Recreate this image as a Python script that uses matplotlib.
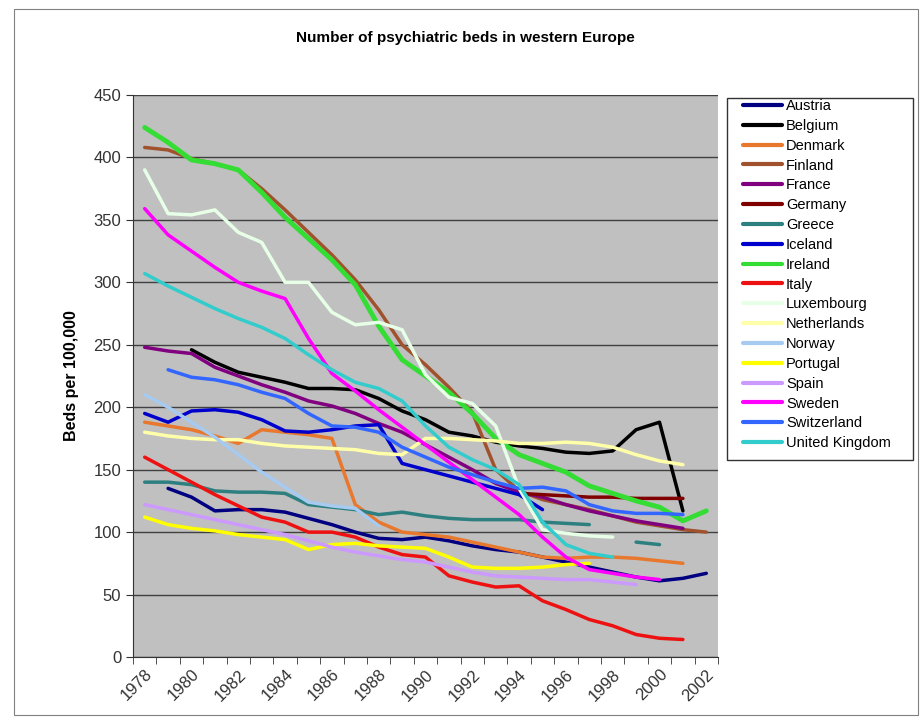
import numpy as np
import matplotlib
matplotlib.use("Agg")
import matplotlib.pyplot as plt
from matplotlib.patches import Rectangle

plt.rcParams['font.family'] = ['Liberation Sans', 'DejaVu Sans']

nan = np.nan
years = list(range(1978, 2003))

# beds per 100,000, one value per year 1978-2002 (nan = no data)
austria = [nan, 135, 128, 117, 118, 118, 116, 111, 106, 100, 95, 94, 96, 93, 89, 86, 84, 80, 76, 72, 68, 64, 61, 63, 67]
belgium = [nan, nan, 246, 236, 228, 224, 220, 215, 215, 214, 207, 197, 190, 180, 177, 172, 169, 167, 164, 163, 165, 182, 188, 117, nan]
denmark = [188, 185, 182, 177, 171, 182, 180, 178, 175, 122, 108, 100, 98, 96, 92, 88, 84, 80, 79, 80, 80, 79, 77, 75, nan]
finland = [408, 406, 399, 395, 390, 375, 358, 340, 322, 302, 278, 250, 234, 216, 196, 150, 133, 126, 122, 118, 113, 108, 105, 102, 100]
france = [248, 245, 243, 232, 225, 218, 212, 205, 201, 195, 187, 180, 170, 160, 150, 139, 132, 128, 122, 117, 113, 109, 106, 103, nan]
germany = [nan] * 16 + [131, 130, 129, 128, 128, 127, 127, 127, nan]
greece = [140, 140, 138, 133, 132, 132, 131, 122, 120, 118, 114, 116, 113, 111, 110, 110, 110, 108, 107, 106, nan, 92, 90, nan, nan]
iceland = [195, 188, 197, 198, 196, 190, 181, 180, 182, 185, 186, 155, 150, 145, 140, 135, 130, 118] + [nan] * 7
ireland = [424, 412, 398, 395, 390, 372, 352, 335, 318, 298, 265, 238, 225, 212, 195, 175, 162, 155, 148, 137, 131, 125, 120, 109, 117]
italy = [160, 150, 140, 130, 121, 112, 108, 100, 100, 96, 88, 82, 80, 65, 60, 56, 57, 45, 38, 30, 25, 18, 15, 14, nan]
luxembourg = [390, 355, 354, 358, 340, 332, 300, 300, 276, 266, 268, 262, 226, 208, 203, 185, 135, 102, 99, 97, 96, nan, nan, nan, nan]
netherlands = [180, 177, 175, 174, 174, 171, 169, 168, 167, 166, 163, 162, 175, 175, 174, 173, 171, 171, 172, 171, 168, 162, 157, 154, nan]
norway = [210, 200, 188, 176, 162, 148, 136, 124, 121, 119, 105] + [nan] * 14
portugal = [112, 106, 103, 101, 98, 96, 94, 86, 90, 91, 89, 88, 87, 80, 72, 71, 71, 72, 74, 75] + [nan] * 5
spain = [122, 118, 114, 110, 106, 102, 98, 93, 88, 84, 81, 78, 76, 72, 68, 65, 64, 63, 62, 62, 60, 58, nan, nan, nan]
sweden = [359, 338, 325, 312, 300, 293, 287, 255, 227, 213, 198, 184, 170, 156, 142, 128, 114, 96, 80, 70, 67, 64, 62, nan, nan]
switzerland = [nan, 230, 224, 222, 218, 212, 207, 195, 185, 184, 180, 168, 160, 152, 146, 140, 135, 136, 133, 122, 117, 115, 115, 114, nan]
uk = [307, 297, 288, 279, 271, 264, 255, 242, 230, 220, 215, 205, 185, 168, 158, 150, 138, 108, 90, 83, 80, nan, nan, nan, nan]

series = [
    ('Austria', austria, '#000080'),
    ('Belgium', belgium, '#000000'),
    ('Denmark', denmark, '#E8782E'),
    ('Finland', finland, '#A0522D'),
    ('France', france, '#800080'),
    ('Germany', germany, '#800000'),
    ('Greece', greece, '#2E8080'),
    ('Iceland', iceland, '#0000CC'),
    ('Ireland', ireland, '#33DD33'),
    ('Italy', italy, '#EE1111'),
    ('Luxembourg', luxembourg, '#E6FFE6'),
    ('Netherlands', netherlands, '#FFFFAA'),
    ('Norway', norway, '#A6CAF0'),
    ('Portugal', portugal, '#FFFF00'),
    ('Spain', spain, '#CC99FF'),
    ('Sweden', sweden, '#FF00FF'),
    ('Switzerland', switzerland, '#3366FF'),
    ('United Kingdom', uk, '#33CCCC'),
]

fig = plt.figure(figsize=(9.22, 7.21), dpi=100)
ax = fig.add_axes([133 / 922, 1 - 657 / 721, 585 / 922, 562 / 721])

# outer chart border and legend frame (kept beneath the axes and legend)
fig.patches.append(Rectangle((14 / 922, 6 / 721), 904 / 922, 706 / 721,
                             transform=fig.transFigure, fill=False, zorder=-2,
                             edgecolor='#808080', linewidth=0.8))
fig.patches.append(Rectangle((727 / 922, 1 - 460 / 721), 186 / 922, 362 / 721,
                             transform=fig.transFigure, fill=False, zorder=-1,
                             edgecolor='#333333', linewidth=1.0))

ax.set_facecolor('#C0C0C0')
for name, vals, col in series:
    lw = 3.5 if name == 'Ireland' else 2.5
    ax.plot(years, vals, color=col, linewidth=lw, label=name,
            solid_capstyle='round', solid_joinstyle='round')

ax.set_xlim(1977.5, 2002.5)
ax.set_ylim(0, 450)
ax.set_yticks(np.arange(0, 451, 50))
ax.yaxis.grid(True, color='#404040', linewidth=1.0)
ax.set_axisbelow(True)

ax.set_xticks(np.arange(1978, 2003, 2))
ax.set_xticks(np.arange(1977.5, 2003, 1), minor=True)
ax.tick_params(axis='x', which='major', length=0, labelsize=12, labelcolor='#333333', pad=7)
ax.tick_params(axis='x', which='minor', length=5, direction='out', color='#333333')
ax.tick_params(axis='y', length=5, direction='out', labelsize=12, labelcolor='#333333', color='#333333')
for lab in ax.get_xticklabels():
    lab.set_rotation(45)
    lab.set_ha('right')
    lab.set_rotation_mode('anchor')

for s in ['top', 'right']:
    ax.spines[s].set_visible(False)
for s in ['left', 'bottom']:
    ax.spines[s].set_color('#333333')

ax.set_ylabel('Beds per 100,000', fontsize=11.5, fontweight='bold', labelpad=10)
fig.text(465 / 922, 1 - 38 / 721, 'Number of psychiatric beds in western Europe',
         ha='center', va='center', fontsize=11, fontweight='bold')

leg = ax.legend(loc='upper left', bbox_to_anchor=(743 / 922, 1 - 99 / 721),
                bbox_transform=fig.transFigure, fontsize=10.5, frameon=False,
                handlelength=2.7, handletextpad=0.25, labelspacing=0.4,
                borderpad=0, borderaxespad=0)
for h in leg.get_lines():
    h.set_linewidth(3)

fig.savefig('out.png', dpi=100)
